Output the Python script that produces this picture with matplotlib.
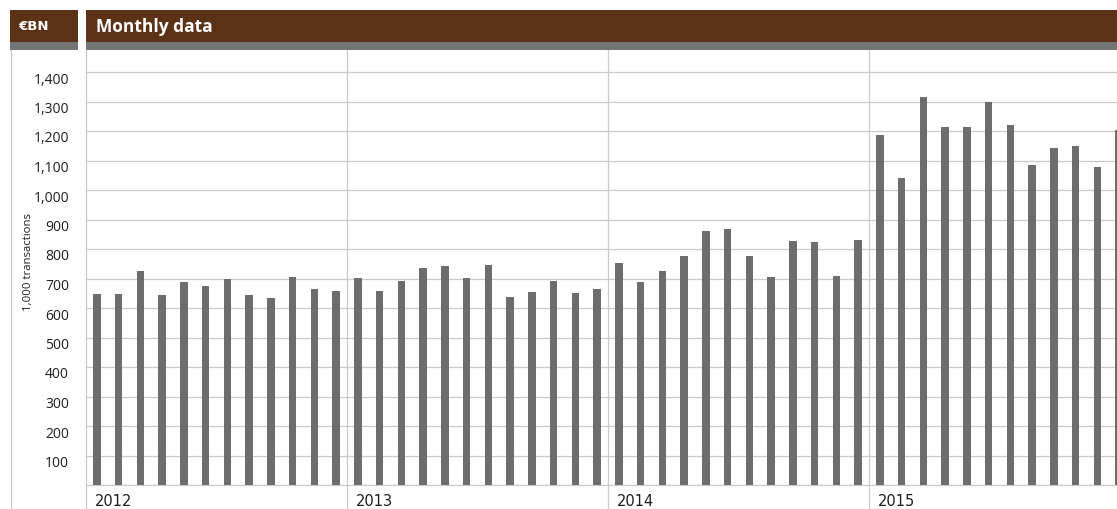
import matplotlib
matplotlib.use("Agg")
import matplotlib.pyplot as plt
from matplotlib.patches import Rectangle
from matplotlib.lines import Line2D
from matplotlib.transforms import blended_transform_factory, ScaledTranslation

# ---- data ----
years = ["2012", "2013", "2014", "2015"]
values_2012 = [647, 647, 725, 644, 688, 675, 698, 644, 634, 705, 664, 658]
values_2013 = [702, 658, 692, 736, 742, 702, 746, 637, 654, 692, 651, 664]
values_2014 = [753, 688, 725, 776, 861, 868, 776, 705, 827, 824, 708, 831]
values_2015 = [1186, 1041, 1315, 1214, 1214, 1298, 1220, 1085, 1142, 1149, 1078, 1203]
y_ticks = [100, 200, 300, 400, 500, 600, 700, 800, 900, 1000, 1100, 1200, 1300, 1400]
y_tick_labels = ["100", "200", "300", "400", "500", "600", "700", "800", "900",
                 "1,000", "1,100", "1,200", "1,300", "1,400"]
unit_label = "€BN"
title = "Monthly data"
y_label = "1,000 transactions"

values = values_2012 + values_2013 + values_2014 + values_2015

W, H = 1117, 509
fig = plt.figure(figsize=(W / 100, H / 100), dpi=100)
plt.rcParams['font.family'] = ['Open Sans', 'DejaVu Sans']

def fx(x):
    return x / W

def fy(y):
    return 1 - y / H

BROWN = "#5b3216"
BAND = "#747474"
GRID = "#c9c9c9"
BAR = "#6d6d6d"
TXT = "#1e1e1e"

# ---- header ----
fig.patches.append(Rectangle((fx(10), fy(41.7)), fx(78) - fx(10), fy(10) - fy(41.7),
                             transform=fig.transFigure, color=BROWN, lw=0))
fig.patches.append(Rectangle((fx(10), fy(49.5)), fx(78) - fx(10), fy(41.7) - fy(49.5),
                             transform=fig.transFigure, color=BAND, lw=0))
fig.patches.append(Rectangle((fx(86), fy(41.7)), 1 - fx(86), fy(10) - fy(41.7),
                             transform=fig.transFigure, color=BROWN, lw=0))
fig.patches.append(Rectangle((fx(86), fy(49.5)), 1 - fx(86), fy(41.7) - fy(49.5),
                             transform=fig.transFigure, color=BAND, lw=0))
fig.text(fx(18), fy(27), unit_label, color="white", fontsize=9.5, fontweight="bold",
         ha="left", va="center", family=["DejaVu Sans"])
fig.text(fx(96), fy(26.5), title, color="white", fontsize=12.5, fontweight="bold",
         ha="left", va="center")

# left thin line
fig.lines.append(Line2D([fx(10.5), fx(10.5)], [fy(49.5), 0], transform=fig.transFigure,
                        color=GRID, lw=0.9))

# ---- axes ----
ax_left, ax_top, ax_bottom = 86, 49.5, 485
ax = fig.add_axes([fx(ax_left), fy(ax_bottom), 1 - fx(ax_left), fy(ax_top) - fy(ax_bottom)])
px_per_month = 21.75
n_vis = (W - ax_left) / px_per_month
ax.set_xlim(-0.5, -0.5 + n_vis)
ppu = (ax_bottom - 72) / 1400.0
ax.set_ylim(0, (ax_bottom - ax_top) / ppu)

for s in ax.spines.values():
    s.set_visible(False)

x = list(range(len(values)))
ax.bar(x, values, width=0.355, color=BAR, zorder=3, lw=0)

for v in [0] + y_ticks:
    ax.axhline(v, color=GRID, lw=0.9, zorder=1, clip_on=False)

ax.set_xticks([])
ax.set_yticks(y_ticks)
ax.set_yticklabels(y_tick_labels, fontsize=10, color=TXT)
ax.tick_params(axis="y", length=0, pad=12.2)
off = ScaledTranslation(0, -6 / 100, fig.dpi_scale_trans)
for lab in ax.get_yticklabels():
    lab.set_transform(lab.get_transform() + off)

# year separators extending below the axes
bt = blended_transform_factory(ax.transData, fig.transFigure)
for k, yr in enumerate(years):
    xs = 12 * k - 0.5
    ax.add_line(Line2D([xs, xs], [0, fy(ax_top)], transform=bt, color=GRID, lw=0.9,
                       clip_on=False, zorder=2))
    ax.text(xs, fy(501.5), yr, transform=bt + ScaledTranslation(9 / 100, 0, fig.dpi_scale_trans),
            ha="left", va="center", fontsize=10.5, color=TXT, clip_on=False,
            family=["DejaVu Sans"])

fig.text(fx(29), fy(262), y_label, rotation=90, fontsize=8.2, color=TXT,
         ha="center", va="center")

fig.savefig("out.png", dpi=100)
